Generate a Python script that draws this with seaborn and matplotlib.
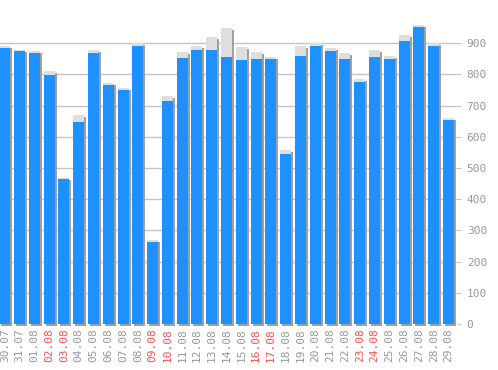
import matplotlib
matplotlib.use("Agg")
import matplotlib.pyplot as plt
import matplotlib.transforms as mtransforms
import pandas as pd
import seaborn as sns

# daily values, blue = main count, grey = total behind it
dates = ["30.07", "31.07", "01.08", "02.08", "03.08", "04.08", "05.08", "06.08",
         "07.08", "08.08", "09.08", "10.08", "11.08", "12.08", "13.08", "14.08",
         "15.08", "16.08", "17.08", "18.08", "19.08", "20.08", "21.08", "22.08",
         "23.08", "24.08", "25.08", "26.08", "27.08", "28.08", "29.08"]
main_values = [886, 875, 869, 798, 465, 648, 869, 766, 750, 891, 263, 715, 853, 878,
               878, 856, 846, 850, 850, 545, 859, 891, 875, 850, 776, 856, 850, 907,
               952, 891, 654]
total_values = [891, 878, 875, 811, 468, 670, 878, 773, 757, 901, 269, 731, 872, 891,
                920, 949, 888, 872, 856, 558, 891, 901, 885, 869, 785, 878, 859, 927,
                959, 901, 660]
weekends = ["02.08", "03.08", "09.08", "10.08", "16.08", "17.08", "23.08", "24.08"]
y_ticks = [0, 100, 200, 300, 400, 500, 600, 700, 800, 900]

blue = "#1e90ff"
light_grey = "#dedede"
shadow_grey = "#a0a0a0"
label_grey = "#999999"
weekend_red = "#ff4d4d"
grid_grey = "#c4c4c4"

df = pd.DataFrame({"date": dates, "main": main_values, "total": total_values})

sns.set_style("white")
plt.rcParams["font.family"] = ["DejaVu Sans Mono"]

fig = plt.figure(figsize=(4.98, 3.7), dpi=100)
ax = fig.add_axes([0, 46 / 370, 457 / 498, 312 / 370])

# shadow: grey total bars shifted 2px right / 2px down
sns.barplot(data=df, x="date", y="total", color=shadow_grey, width=0.744,
            saturation=1, ax=ax, zorder=2)
shift = mtransforms.ScaledTranslation(2 / 100, -2 / 100, fig.dpi_scale_trans)
for p in ax.patches:
    p.set_transform(ax.transData + shift)
    p.set_clip_on(False)

sns.barplot(data=df, x="date", y="total", color=light_grey, width=0.744,
            saturation=1, ax=ax, zorder=3)
sns.barplot(data=df, x="date", y="main", color=blue, width=0.744,
            saturation=1, ax=ax, zorder=4)
for p in ax.patches:
    p.set_linewidth(0)

ax.set_xlim(-0.32, 30.58)
ax.set_ylim(0, 1000)
ax.set_yticks(y_ticks)
ax.yaxis.tick_right()
ax.grid(axis="y", color=grid_grey, linewidth=1)
ax.set_axisbelow(True)
for s in ax.spines.values():
    s.set_visible(False)

ax.set_xlabel("")
ax.set_ylabel("")
ax.tick_params(axis="y", right=True, length=3, color=grid_grey, pad=4,
               labelsize=8, labelcolor=label_grey)
ax.tick_params(axis="x", bottom=False, length=0, pad=3, labelsize=8,
               labelrotation=90)
for lbl in ax.get_xticklabels():
    lbl.set_color(weekend_red if lbl.get_text() in weekends else label_grey)

fig.savefig("out.png", dpi=100, facecolor="white")
